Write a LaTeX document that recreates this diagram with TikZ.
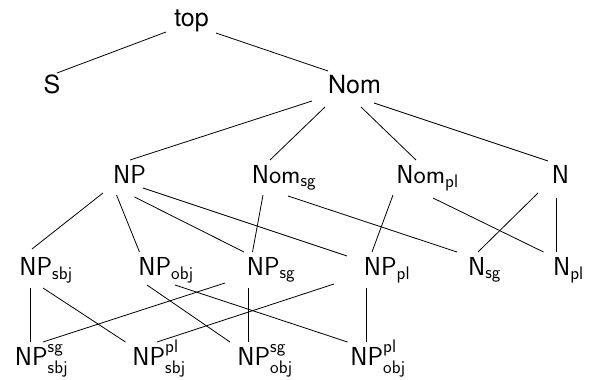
\documentclass[tikz,border=0pt]{standalone}
\usepackage{amsmath}
\usepackage{fontspec}
\newfontfamily\helv{TeX Gyre Heros}
\begin{document}
\begin{tikzpicture}[x=1pt,y=-1pt,
  lbl/.style={anchor=base,inner sep=4pt,font=\fontsize{26}{28}\selectfont\sffamily},
  toplbl/.style={anchor=base,inner sep=4pt,font=\fontsize{25}{27}\selectfont\helv},
  edge/.style={draw=black,line width=0.8pt}]
\useasboundingbox (0,0) rectangle (590,380);
\newcommand{\sub}[1]{_{\textsf{#1}}}
\newcommand{\supsub}[2]{^{\textsf{#1}}_{\textsf{#2}}}
% a connector between two nodes, each end given as an offset from the node's base point
\newcommand{\conn}[6]{\path[edge] ([shift={(#2,#3)}]#1.base) -- ([shift={(#5,#6)}]#4.base);}
% upper levels
\node[toplbl] (top) at (191.5,27) {top};
\node[toplbl] (S)   at (52,93)    {S};
\node[toplbl] (Nom) at (354.5,93) {Nom};
% second level
\node[lbl] (NP)    at (129.5,183) {NP};
\node[lbl] (Nomsg) at (284,183)   {Nom$\sub{sg}$};
\node[lbl] (Nompl) at (427.5,183) {Nom$\sub{pl}$};
\node[lbl] (N)     at (560.5,183) {N};
% third level
\node[lbl] (NPsbj) at (46,275)    {NP$\sub{sbj}$};
\node[lbl] (NPobj) at (166,275)   {NP$\sub{obj}$};
\node[lbl] (NPsg)  at (271,275)   {NP$\sub{sg}$};
\node[lbl] (NPpl)  at (387,275)   {NP$\sub{pl}$};
\node[lbl] (Nsg)   at (484.5,275) {N$\sub{sg}$};
\node[lbl] (Npl)   at (568.5,275) {N$\sub{pl}$};
% bottom level
\node[lbl] (NPsgsbj) at (41.5,365) {NP$\supsub{sg}{sbj}$};
\node[lbl] (NPplsbj) at (159,365)  {NP$\supsub{pl}{sbj}$};
\node[lbl] (NPsgobj) at (265,365)  {NP$\supsub{sg}{obj}$};
\node[lbl] (NPplobj) at (378,365)  {NP$\supsub{pl}{obj}$};
% connectors
\conn{top}{-25.5}{5}{S}{5}{-20}
\conn{top}{24.5}{6}{Nom}{-26.5}{-22}
\conn{Nom}{-42.5}{8}{NP}{0.5}{-23}
\conn{Nom}{-29.5}{14}{Nomsg}{-14}{-23}
\conn{Nom}{6.5}{14}{Nompl}{-11.5}{-23}
\conn{Nom}{19.5}{10}{N}{-12.5}{-22}
\conn{NP}{-26.5}{10}{NPsbj}{-14}{-26}
\conn{NP}{-13}{12}{NPobj}{-26.5}{-23}
\conn{NP}{5}{14}{NPsg}{-27}{-23}
\conn{NP}{13.5}{5}{NPpl}{-40}{-19}
\conn{Nomsg}{-21}{12}{NPsg}{-18.5}{-23}
\conn{Nomsg}{4}{13}{Nsg}{-27.5}{-23}
\conn{Nompl}{-34.5}{12}{NPpl}{-15}{-23}
\conn{Nompl}{5.5}{15}{Npl}{-25}{-23}
\conn{N}{-22.5}{10}{Nsg}{-6.5}{-23}
\conn{N}{-4.5}{15}{Npl}{-12.5}{-23}
\conn{NPsbj}{-16}{13}{NPsgsbj}{-11.5}{-23}
\conn{NPsbj}{-3}{13}{NPplsbj}{-33.5}{-23}
\conn{NPobj}{-19}{10}{NPsgobj}{-35}{-23}
\conn{NPobj}{9}{10}{NPplobj}{-30.5}{-23}
\conn{NPsg}{-46}{8}{NPsgsbj}{1.5}{-23}
\conn{NPsg}{-23}{13}{NPsgobj}{-17}{-23}
\conn{NPpl}{-53}{9}{NPplsbj}{-2}{-23}
\conn{NPpl}{-21}{13}{NPplobj}{-12}{-23}
\end{tikzpicture}
\end{document}
